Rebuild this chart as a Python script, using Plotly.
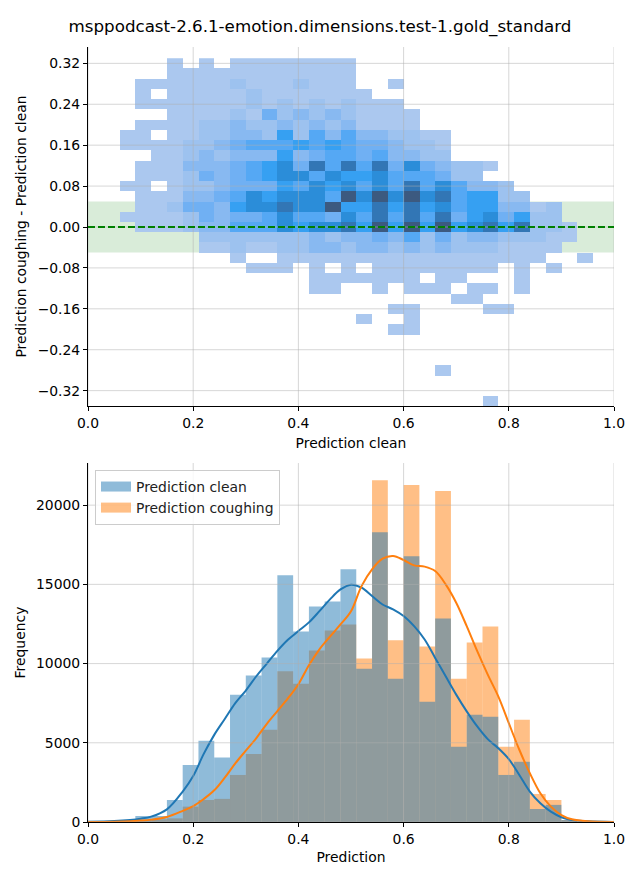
import plotly.graph_objects as go

title_text = "msppodcast-2.6.1-emotion.dimensions.test-1.gold_standard"

# ---------------- top: 2D histogram (difference vs clean prediction) ----------------
hm_x = [0.015, 0.045, 0.075, 0.105, 0.135, 0.165, 0.195, 0.225, 0.255, 0.285, 0.315,
        0.345, 0.375, 0.405, 0.435, 0.465, 0.495, 0.525, 0.555, 0.585, 0.615, 0.645,
        0.675, 0.705, 0.735, 0.765, 0.795, 0.825, 0.855, 0.885, 0.915, 0.945, 0.975]
hm_y = [0.32, 0.30, 0.28, 0.26, 0.24, 0.22, 0.20, 0.18, 0.16, 0.14, 0.12, 0.10, 0.08,
        0.06, 0.04, 0.02, 0.00, -0.02, -0.04, -0.06, -0.08, -0.10, -0.12, -0.14, -0.16,
        -0.18, -0.20, -0.22, -0.24, -0.26, -0.28, -0.30, -0.32, -0.34]
# density level per cell (0 = empty, 1 = lightest ... 9 = darkest), rows follow hm_y
hm_levels = [
    "000001010111111110000000000000000",
    "000001111111111110000000000000000",
    "000111111211121110010000000000000",
    "000101111121111111000000000000000",
    "000111111121212121110000000000000",
    "000001111214232321111000000000000",
    "000111122322323231111000000000000",
    "001101122332625353322110000000000",
    "001111223455565654432210000000000",
    "000011232333634554533220000000000",
    "000111333456748585847432210000000",
    "000111243456775766755542200000000",
    "001101223444657675758575332000000",
    "000111334576777597979785662200000",
    "000112443677877966868675663312000",
    "001111243445755475858584674622000",
    "000111233555767786969696786822100",
    "000000022222223233435242332221100",
    "000000011211223323323232221111000",
    "000000000100111111111111111110010",
    "000000000011101010111111110101000",
    "000000000000001111111011000100000",
    "000000000000001100101110110100000",
    "000000000000000000000001100000000",
    "000000000000000000011000011000000",
    "000000000000000001001000000000000",
    "000000000000000000011000000000000",
    "000000000000000000000000000000000",
    "000000000000000000000000000000000",
    "000000000000000000000000000000000",
    "000000000000000000000010000000000",
    "000000000000000000000000000000000",
    "000000000000000000000000000000000",
    "000000000000000000000000010000000",
]
top_xticks = [0.0, 0.2, 0.4, 0.6, 0.8, 1.0]
top_yticks = [-0.32, -0.24, -0.16, -0.08, 0.0, 0.08, 0.16, 0.24, 0.32]
tolerance_band = [-0.05, 0.05]

# ---------------- bottom: histograms + KDE ----------------
bin_centers = [0.075, 0.105, 0.135, 0.165, 0.195, 0.225, 0.255, 0.285, 0.315, 0.345,
               0.375, 0.405, 0.435, 0.465, 0.495, 0.525, 0.555, 0.585, 0.615, 0.645,
               0.675, 0.705, 0.735, 0.765, 0.795, 0.825, 0.855, 0.885, 0.915]
freq_clean = [100, 380, 380, 1390, 3600, 5130, 4070, 8040, 9240, 10380,
              15570, 12030, 13610, 13920, 15950, 9680, 18290, 9050, 16770, 7590,
              12850, 4750, 6770, 6650, 2970, 3800, 820, 1080, 100]
freq_cough = [30, 130, 170, 230, 970, 1390, 1460, 2970, 4300, 5820,
              9510, 8730, 10820, 12090, 12470, 10320, 21580, 11480, 21270, 11080,
              20890, 9050, 11330, 12340, 4750, 6460, 1770, 1390, 130]
kde_x = [0.0, 0.05, 0.08, 0.10, 0.12, 0.15, 0.18, 0.20, 0.22, 0.24, 0.26, 0.28, 0.30,
         0.32, 0.34, 0.36, 0.38, 0.40, 0.42, 0.44, 0.46, 0.48, 0.50, 0.52, 0.54, 0.56,
         0.58, 0.60, 0.62, 0.64, 0.66, 0.68, 0.70, 0.72, 0.74, 0.76, 0.78, 0.80, 0.82,
         0.84, 0.86, 0.88, 0.90, 0.92, 0.95, 1.0]
kde_clean = [10, 60, 130, 210, 340, 800, 1920, 2900, 4300, 5500, 6500, 7500, 8300,
             9200, 10000, 10800, 11500, 12050, 12600, 13310, 14050, 14680, 14980, 14790,
             14260, 13730, 13420, 13000, 12360, 11520, 10360, 9200, 8040, 6980, 6030,
             5230, 4660, 3970, 2970, 1920, 1180, 650, 300, 130, 40, 5]
kde_cough = [5, 20, 50, 90, 150, 320, 700, 1000, 1450, 2000, 2800, 3700, 4500,
             5300, 6200, 7000, 7800, 8700, 9900, 10900, 11700, 12470, 13300, 14890,
             15950, 16620, 16790, 16540, 16200, 16120, 15840, 15000, 13840, 12360, 10780,
             9300, 7930, 6240, 4560, 3080, 1810, 970, 440, 170, 40, 5]
bot_xticks = [0.0, 0.2, 0.4, 0.6, 0.8, 1.0]
bot_yticks = [0, 5000, 10000, 15000, 20000]

BLUE = "#1f77b4"
ORANGE = "#ff7f0e"
BLUE_A = "rgba(31,119,180,0.5)"
ORANGE_A = "rgba(255,127,14,0.5)"
FONT = "DejaVu Sans"
FS = 13.9
GRID = "rgba(176,176,176,0.5)"

z = []
for row in hm_levels:
    row = row.ljust(len(hm_x), "0")[:len(hm_x)]
    z.append([int(c) if c != "0" else None for c in row])

colorscale = [
    [0.000, "#abc8ef"], [0.125, "#9dc2ef"], [0.250, "#88b9f1"], [0.375, "#70b0f3"],
    [0.500, "#55a8f4"], [0.625, "#36a0f2"], [0.750, "#2b8dd9"], [0.875, "#3276b5"],
    [1.000, "#3c5a80"],
]

fig = go.Figure()

fig.add_trace(go.Heatmap(
    x=hm_x, y=hm_y, z=z, colorscale=colorscale, zmin=1, zmax=9,
    showscale=False, hoverinfo="skip", xaxis="x", yaxis="y",
))

# orange first so the blue sits on top (gives the grey overlap)
fig.add_trace(go.Bar(
    x=bin_centers, y=freq_cough, width=0.03, name="Prediction coughing",
    marker=dict(color=ORANGE, opacity=0.5, line=dict(width=0)),
    xaxis="x2", yaxis="y2", showlegend=False,
))
fig.add_trace(go.Bar(
    x=bin_centers, y=freq_clean, width=0.03, name="Prediction clean",
    marker=dict(color=BLUE, opacity=0.5, line=dict(width=0)),
    xaxis="x2", yaxis="y2", showlegend=False,
))
fig.add_trace(go.Scatter(
    x=kde_x, y=kde_clean, mode="lines", line=dict(color=BLUE, width=2, shape="spline"),
    showlegend=False, hoverinfo="skip", xaxis="x2", yaxis="y2",
))
fig.add_trace(go.Scatter(
    x=kde_x, y=kde_cough, mode="lines", line=dict(color=ORANGE, width=2, shape="spline"),
    showlegend=False, hoverinfo="skip", xaxis="x2", yaxis="y2",
))
# legend patches (wide rectangles like matplotlib)
fig.add_trace(go.Scatter(
    x=[None], y=[None], mode="lines", name="Prediction clean",
    line=dict(color=BLUE_A, width=10), xaxis="x2", yaxis="y2", legendrank=1,
))
fig.add_trace(go.Scatter(
    x=[None], y=[None], mode="lines", name="Prediction coughing",
    line=dict(color=ORANGE_A, width=10), xaxis="x2", yaxis="y2", legendrank=2,
))

shapes = []
shapes.append(dict(type="rect", xref="x domain", yref="y", x0=0, x1=1,
                   y0=tolerance_band[0], y1=tolerance_band[1],
                   fillcolor="rgba(0,128,0,0.15)", line=dict(width=0), layer="below"))
for xv in top_xticks:
    shapes.append(dict(type="line", xref="x", yref="y domain", x0=xv, x1=xv, y0=0, y1=1,
                       line=dict(color=GRID, width=1), layer="above"))
for yv in top_yticks:
    shapes.append(dict(type="line", xref="x domain", yref="y", x0=0, x1=1, y0=yv, y1=yv,
                       line=dict(color=GRID, width=1), layer="above"))
for xv in bot_xticks:
    shapes.append(dict(type="line", xref="x2", yref="y2 domain", x0=xv, x1=xv, y0=0, y1=1,
                       line=dict(color=GRID, width=1), layer="above"))
for yv in bot_yticks:
    shapes.append(dict(type="line", xref="x2 domain", yref="y2", x0=0, x1=1, y0=yv, y1=yv,
                       line=dict(color=GRID, width=1), layer="above"))
shapes.append(dict(type="line", xref="x domain", yref="y", x0=0, x1=1, y0=0, y1=0,
                   line=dict(color="green", width=2, dash="7px,3px"), layer="above"))

axis_common = dict(
    showline=True, linecolor="black", linewidth=1, mirror=False,
    ticks="outside", ticklen=4, tickwidth=1, tickcolor="black",
    showgrid=False, zeroline=False, automargin=False,
    tickfont=dict(family=FONT, size=FS, color="black"),
)

# page has an 8px body margin: figure is 632x872 drawn from (8, 8)
W, H = 632, 872
fig.update_layout(
    width=W, height=H,
    margin=dict(l=80, r=26, t=39, b=58),
    paper_bgcolor="white", plot_bgcolor="white",
    font=dict(family=FONT, size=FS, color="black"),
    title=dict(text=title_text, x=312 / W, xref="container", xanchor="center",
               y=1 - 18 / H, yref="container", yanchor="middle",
               font=dict(family=FONT, size=16.7, color="black")),
    barmode="overlay",
    showlegend=True,
    legend=dict(x=0.0133, y=0.4542, xanchor="left", yanchor="top",
                bgcolor="rgba(255,255,255,0.8)", bordercolor="#cccccc", borderwidth=1,
                itemwidth=30, tracegroupgap=0,
                font=dict(family=FONT, size=FS, color="#222222")),
    xaxis=dict(domain=[0, 1], anchor="y", range=[0, 1], tickvals=top_xticks,
               tickformat=".1f",
               title=dict(text="Prediction clean", standoff=8,
                          font=dict(family=FONT, size=FS)), **axis_common),
    yaxis=dict(domain=[0.5368, 1], anchor="x", range=[-0.350, 0.352], tickvals=top_yticks,
               tickformat=".2f",
               title=dict(text="Prediction coughing - Prediction clean", standoff=7,
                          font=dict(family=FONT, size=FS)), **axis_common),
    xaxis2=dict(domain=[0, 1], anchor="y2", range=[0, 1], tickvals=bot_xticks,
                tickformat=".1f",
                title=dict(text="Prediction", standoff=6,
                           font=dict(family=FONT, size=FS)), **axis_common),
    yaxis2=dict(domain=[0, 0.4632], anchor="x2", range=[0, 22660], tickvals=bot_yticks,
                tickformat="d",
                title=dict(text="Frequency", standoff=7,
                           font=dict(family=FONT, size=FS)), **axis_common),
    shapes=shapes,
)

fig.write_html("out.html")
